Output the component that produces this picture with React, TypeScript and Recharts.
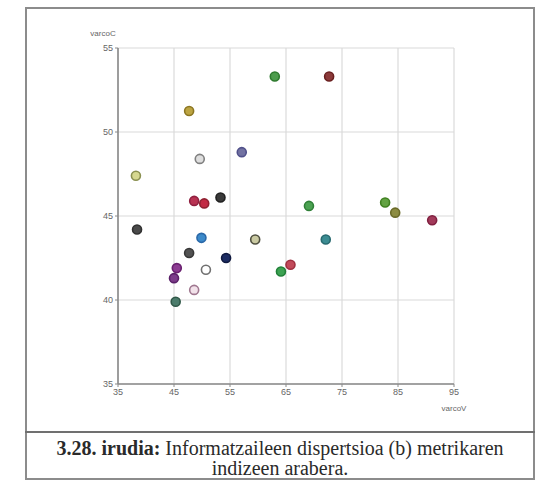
import React from 'react';
import { ScatterChart, Scatter, XAxis, YAxis, CartesianGrid } from 'recharts';

// Informant coordinates on the two variation-coefficient indices
const varcoV = [47.7, 63.0, 72.7, 38.2, 49.6, 57.1, 48.6, 50.4, 53.3, 38.4, 49.9, 59.5, 47.7, 54.3, 45.5, 45.0, 50.7, 48.6, 45.3, 69.1, 72.1, 82.7, 84.5, 91.1, 65.8, 64.1];
const varcoC = [51.25, 53.3, 53.3, 47.4, 48.4, 48.8, 45.9, 45.75, 46.1, 44.2, 43.7, 43.6, 42.8, 42.5, 41.9, 41.3, 41.8, 40.6, 39.9, 45.6, 43.6, 45.8, 45.2, 44.75, 42.1, 41.7];

// One colour per informant: inner fill and outline
const fills = ['#bca442', '#4c9c4c', '#8c3a3a', '#d6d890', '#dedede', '#7272a2', '#b83252', '#c22a44', '#3a3a3a', '#4a4a4a', '#3c8aca', '#cacaa2', '#525252', '#1c2c62', '#8c3c92', '#7c3c8a', '#ffffff', '#f2e2ea', '#4c7c6c', '#4ca252', '#3c8c92', '#62a242', '#8c8c42', '#a23a5a', '#c24a5a', '#3ca252'];
const strokes = ['#8c7622', '#2e7a2e', '#6a2020', '#8a9050', '#808080', '#50508a', '#902040', '#902030', '#202020', '#303030', '#2a68a8', '#505040', '#383838', '#101a40', '#6a2070', '#5a2068', '#707070', '#a07890', '#305848', '#308038', '#286a70', '#408020', '#6a6a28', '#802040', '#a03040', '#208038'];

const xTicks = [35, 45, 55, 65, 75, 85, 95];
const yTicks = [35, 40, 45, 50, 55];

const points = varcoV.map((v, i) => ({ v, c: varcoC[i], fill: fills[i], stroke: strokes[i] }));

const Dot = (props: any) => {
  const { cx, cy, payload } = props;
  return <circle cx={cx} cy={cy} r={4.5} fill={payload.fill} stroke={payload.stroke} strokeWidth={1.6} />;
};

const axisFont = { fontSize: 9, fill: '#666', fontFamily: '"Liberation Sans", Arial, sans-serif' };

const XName = (props: any) => {
  const vb = props.viewBox;
  return (
    <text x={vb.x + vb.width} y={vb.y + vb.height - 3} textAnchor="middle" fontSize={8} fill="#666" fontFamily='"Liberation Sans", Arial, sans-serif'>
      varcoV
    </text>
  );
};

export default function App() {
  return (
    <div style={{ position: 'absolute', left: 0, top: 0, width: 536, height: 482, background: '#fff' }}>
      <ScatterChart width={536} height={482} margin={{ top: 48, right: 82, bottom: 68, left: 88 }} style={{ position: 'absolute', left: 0, top: 0 }}>
        <CartesianGrid stroke="#dadada" strokeWidth={1.2} />
        <XAxis
          type="number"
          dataKey="v"
          domain={[35, 95]}
          ticks={xTicks}
          height={30}
          tick={axisFont}
          tickSize={3}
          axisLine={{ stroke: '#8a8a8a', strokeWidth: 1.6 }}
          tickLine={{ stroke: '#8a8a8a' }}
          label={XName}
        />
        <YAxis
          type="number"
          dataKey="c"
          domain={[35, 55]}
          ticks={yTicks}
          width={30}
          tick={axisFont}
          tickSize={3}
          axisLine={{ stroke: '#8a8a8a', strokeWidth: 1.6 }}
          tickLine={{ stroke: '#8a8a8a' }}
          label={{ value: 'varcoC', position: 'top', offset: 12, fontSize: 8, fill: '#666', fontFamily: '"Liberation Sans", Arial, sans-serif' }}
        />
        <Scatter data={points} shape={Dot} isAnimationActive={false} />
      </ScatterChart>
      <div
        style={{
          position: 'absolute',
          left: 25,
          top: 7,
          width: 510,
          height: 473,
          border: '2px solid #8c8c8c',
          boxSizing: 'border-box',
          pointerEvents: 'none',
        }}
      />
      <div
        style={{
          position: 'absolute',
          left: 25,
          top: 431,
          width: 510,
          height: 49,
          borderTop: '2px solid #707070',
          boxSizing: 'border-box',
          textAlign: 'center',
          fontFamily: '"Liberation Serif", "Times New Roman", serif',
          fontSize: 20,
          lineHeight: '20px',
          color: '#2a2a2a',
          paddingTop: 5,
          whiteSpace: 'nowrap',
        }}
      >
        <b>3.28. irudia:</b> Informatzaileen dispertsioa (b) metrikaren
        <br />
        indizeen arabera.
      </div>
    </div>
  );
}
